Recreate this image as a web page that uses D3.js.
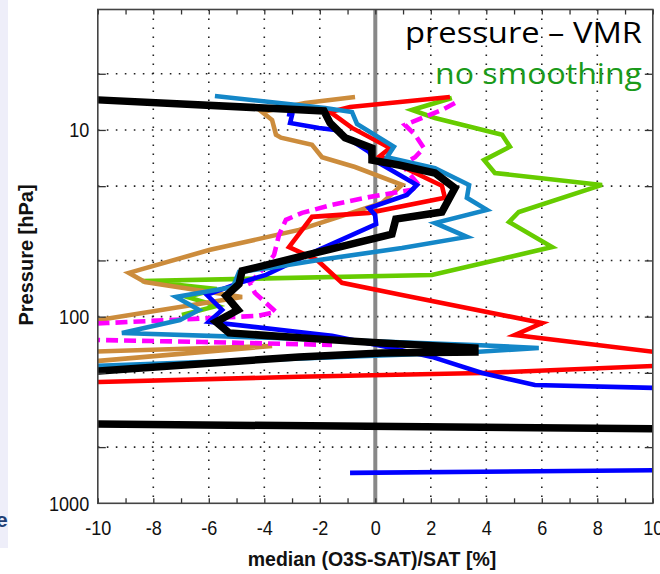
<!DOCTYPE html>
<html>
<head>
<meta charset="utf-8">
<script src="https://cdn.jsdelivr.net/npm/d3@7/dist/d3.min.js"></script>
<style>
  body { margin: 0; background: #fff; }
  svg { display: block; }
  .tick text { font-family: "Liberation Sans", Arial, sans-serif; font-size: 21px; fill: #111; }
</style>
</head>
<body>
<svg class="chart" width="660" height="574"></svg>
<script>
// ---- data ----
var xTicks = [-10, -8, -6, -4, -2, 0, 2, 4, 6, 8, 10];
var xGrid = [-8, -6, -4, -2, 2, 4, 6, 8];
var yGrid = [5, 10, 20, 50, 100, 200, 500];
var yLabels = [10, 100, 1000];

// pressure [hPa] / median difference [%]
var blackP = [6.46, 6.9, 7.91, 9.17, 11.0, 12.5, 14.5, 15.4, 17.0, 20.5, 27.5, 30.0, 36.1, 56.9, 66.8, 77.4, 92.1, 106.7, 122.3, 133.2, 138.3, 147.2, 154.6, 156.4, 164.3, 195.3, 210, 372, 403];
var blackX = [-14, -10.0, -1.85, -1.63, -1.09, -0.12, -0.12, 0.85, 2.15, 2.87, 2.40, 0.74, 0.60, -4.80, -4.91, -5.38, -4.95, -5.74, -5.27, -1.56, 0.24, 3.59, 3.59, 0.24, -2.75, -9.96, -14, -14, 14];

var lblueP = [6.58, 7.62, 8.01, 9.29, 12.3, 14.0, 16.0, 19.7, 23.1, 26.8, 31.5, 37.4, 42.9, 49.7, 54.8, 57.6, 69.3, 78.4, 92.1, 104.2, 122.3, 133.2, 141.8, 147.2, 154.6, 183.6, 195];
var lblueX = [-5.78, -1.81, -0.84, -0.66, 0.67, 0.42, 2.15, 3.38, 3.30, 4.02, 2.15, 3.30, 0.96, -2.03, -3.83, -4.91, -5.13, -7.18, -6.35, -7.04, -9.13, -1.56, 3.59, 5.89, 3.59, -9.96, -14];

var redP = [6.66, 7.53, 8.01, 9.75, 12.5, 13.8, 19.9, 23.1, 27.8, 29.2, 42.4, 49.7, 65.9, 76.5, 108.2, 125.3, 154.6, 176, 200.4, 210, 224, 232];
var redX = [2.69, -0.91, -1.63, -0.84, 0.53, 0.17, 2.40, 2.51, -0.23, -2.28, -3.11, -2.10, -1.20, 0.96, 6.01, 5.03, 10.08, 13.2, 3.85, -2.75, -9.96, -14];

var blueP = [8.21, 8.31, 9.17, 9.75, 10.0, 13.1, 14.5, 19.7, 22.3, 26.2, 28.5, 31.9, 45.6, 59.8, 65.2, 76.5, 92.1, 106.7, 120.8, 126.8, 147.2, 164.3, 200.4, 232.2, 241, 244, 658, 687.5];
var blueX = [-3.18, -3.00, -3.07, -2.03, -1.45, -0.23, -0.05, 1.50, 1.14, -0.23, -0.01, 0.03, -2.28, -3.94, -4.80, -6.07, -5.52, -6.00, -2.75, -1.56, 0.60, 2.04, 3.85, 5.75, 10.08, 14, 14, -0.91];

var greenP = [6.74, 7.82, 8.63, 10.6, 12.3, 14.5, 17.0, 19.7, 27.5, 31.1, 42.4, 59.8, 64.4, 71.1, 78.4, 87.6, 97.9];
var greenX = [2.76, 1.32, 2.15, 4.57, 4.85, 3.92, 4.31, 8.17, 5.17, 4.82, 6.37, 2.04, -8.41, -5.71, -6.79, -5.71, -6.97];

var tanP = [6.66, 7.17, 8.01, 8.84, 10.6, 11.0, 12.0, 14.0, 15.8, 19.7, 24.6, 34.3, 44.0, 58.3, 65.2, 78.4, 104.2, 106.7, 160.3, 143.6, 172.6, 174];
var tanX = [-0.73, -2.53, -4.08, -3.72, -3.58, -3.40, -2.28, -1.92, -0.73, 0.96, 0.24, -2.75, -5.99, -8.88, -8.30, -4.80, -9.96, -14, -14, -3.72, -9.96, -14];

var magP = [7.17, 7.82, 9.40, 10.6, 12.5, 14.0, 15.4, 19.7, 20.9, 22.9, 25.2, 27.8, 30.3, 36.5, 46.8, 54.8, 65.9, 74.6, 94.4, 99.1, 108.2, 115, 130, 136.7, 141.8];
var magX = [2.87, 2.40, 1.07, 1.43, 1.75, 1.43, 0.96, 1.57, 1.32, -0.23, -1.56, -2.64, -3.22, -3.47, -3.65, -4.01, -4.52, -4.34, -3.58, -4.26, -9.67, -14, -14, -6.25, -1.56];

// ---- layout ----
var svg = d3.select(".chart");
var plotL = 97.8, plotR = 652.8, plotT = 9.5, plotB = 503.3;

var x = d3.scaleLinear().domain([-10, 10]).range([plotL, plotR]);
var y = d3.scaleLog().domain([2.263, 1000]).range([plotT, plotB]);

// slide strip on the left edge
svg.append("rect").attr("x", 0).attr("y", 0).attr("width", 8).attr("height", 548).attr("fill", "#eeeef9");
svg.append("text").attr("x", -4).attr("y", 527).text("e")
    .attr("font-family", "Liberation Sans, Arial, sans-serif").attr("font-weight", "bold")
    .attr("font-size", "21px").attr("fill", "#1f3f74");

svg.append("defs").append("clipPath").attr("id", "plotclip")
    .append("rect").attr("x", plotL).attr("y", plotT)
    .attr("width", plotR - plotL).attr("height", plotB - plotT);

// dotted grid
var grid = svg.append("g").attr("stroke", "#222").attr("stroke-width", 1.6)
    .attr("stroke-dasharray", "1.6 7.4");
grid.selectAll(".vg").data(xGrid).enter().append("line")
    .attr("x1", d => x(d)).attr("x2", d => x(d)).attr("y1", plotT).attr("y2", plotB);
grid.selectAll(".hg").data(yGrid).enter().append("line")
    .attr("y1", d => y(d)).attr("y2", d => y(d)).attr("x1", plotL).attr("x2", plotR);

// zero line
svg.append("line").attr("x1", x(0)).attr("x2", x(0)).attr("y1", plotT).attr("y2", plotB)
    .attr("stroke", "#888").attr("stroke-width", 4);

// profiles
var series = [
    { p: greenP, v: greenX, color: "#66cc00", w: 4.6 },
    { p: tanP, v: tanX, color: "#cc8c3c", w: 4.6 },
    { p: magP, v: magX, color: "#ff00ff", w: 4.6, dash: "12 6" },
    { p: redP, v: redX, color: "#ff0000", w: 4.6 },
    { p: blueP, v: blueX, color: "#0000ff", w: 4.6 },
    { p: lblueP, v: lblueX, color: "#1487c8", w: 4.6 },
    { p: blackP, v: blackX, color: "#000000", w: 7.5 }
];

var line = d3.line().x(d => x(d[1])).y(d => y(d[0]));

var plot = svg.append("g").attr("clip-path", "url(#plotclip)");
plot.selectAll("path").data(series).enter().append("path")
    .attr("d", s => line(d3.zip(s.p, s.v)))
    .attr("fill", "none")
    .attr("stroke", s => s.color)
    .attr("stroke-width", s => s.w)
    .attr("stroke-dasharray", s => s.dash || null)
    .attr("stroke-linejoin", "miter")
    .attr("stroke-linecap", "butt");

// axes: inward ticks on all four sides
var minor = d3.range(-10, 10.5, 1);
svg.append("g").attr("transform", "translate(0," + plotB + ")")
    .call(d3.axisTop(x).tickValues(minor).tickSize(5).tickFormat(""));
svg.append("g").attr("transform", "translate(0," + plotT + ")")
    .call(d3.axisBottom(x).tickValues(minor).tickSize(5).tickFormat(""));
svg.append("g").attr("transform", "translate(" + plotL + ",0)")
    .call(d3.axisRight(y).tickValues(yGrid).tickSize(8).tickFormat(""));
svg.append("g").attr("transform", "translate(" + plotR + ",0)")
    .call(d3.axisLeft(y).tickValues(yGrid).tickSize(8).tickFormat(""));

// tick labels (plain hyphen minus, slightly condensed like the original)
svg.append("g").attr("class", "xlab").attr("transform", "translate(0," + plotB + ")")
    .call(d3.axisBottom(x).tickValues(xTicks).tickSize(0).tickPadding(17).tickFormat(d => String(d)));
svg.append("g").attr("class", "ylab").attr("transform", "translate(" + plotL + ",0)")
    .call(d3.axisLeft(y).tickValues(yLabels).tickSize(0).tickPadding(10).tickFormat(d => String(d)));
svg.selectAll(".xlab text").attr("dy", "0.71em").attr("transform", "scale(0.86,1)");
svg.selectAll(".ylab text").attr("transform", "scale(0.86,1)");

svg.selectAll(".domain").attr("stroke", "none");
svg.selectAll(".tick line").attr("stroke", "#333").attr("stroke-width", 1.3);

// frame
svg.append("rect").attr("x", plotL).attr("y", plotT)
    .attr("width", plotR - plotL).attr("height", plotB - plotT)
    .attr("fill", "none").attr("stroke", "#444").attr("stroke-width", 1.6);

// axis titles
svg.append("text").attr("x", 372).attr("y", 566).attr("text-anchor", "middle")
    .attr("font-family", "Liberation Sans, Arial, sans-serif")
    .attr("font-weight", "bold").attr("font-size", "19.5px").attr("fill", "#111")
    .text("median (O3S-SAT)/SAT [%]");
svg.append("text").attr("transform", "translate(33,255) rotate(-90)").attr("text-anchor", "middle")
    .attr("font-family", "Liberation Sans, Arial, sans-serif")
    .attr("font-weight", "bold").attr("font-size", "20px").attr("fill", "#111")
    .text("Pressure [hPa]");

// annotation
svg.append("text").attr("x", 642).attr("y", 43).attr("text-anchor", "end")
    .attr("font-family", "Open Sans, Noto Sans, sans-serif").attr("font-size", "30px").attr("fill", "#000")
    .attr("textLength", 237).attr("lengthAdjust", "spacingAndGlyphs")
    .text("pressure \u2013 VMR");
svg.append("text").attr("x", 642).attr("y", 84).attr("text-anchor", "end")
    .attr("font-family", "Open Sans, Noto Sans, sans-serif").attr("font-size", "30px").attr("fill", "#1a9a1a")
    .attr("textLength", 207).attr("lengthAdjust", "spacingAndGlyphs")
    .text("no smoothing");
</script>
</body>
</html>
